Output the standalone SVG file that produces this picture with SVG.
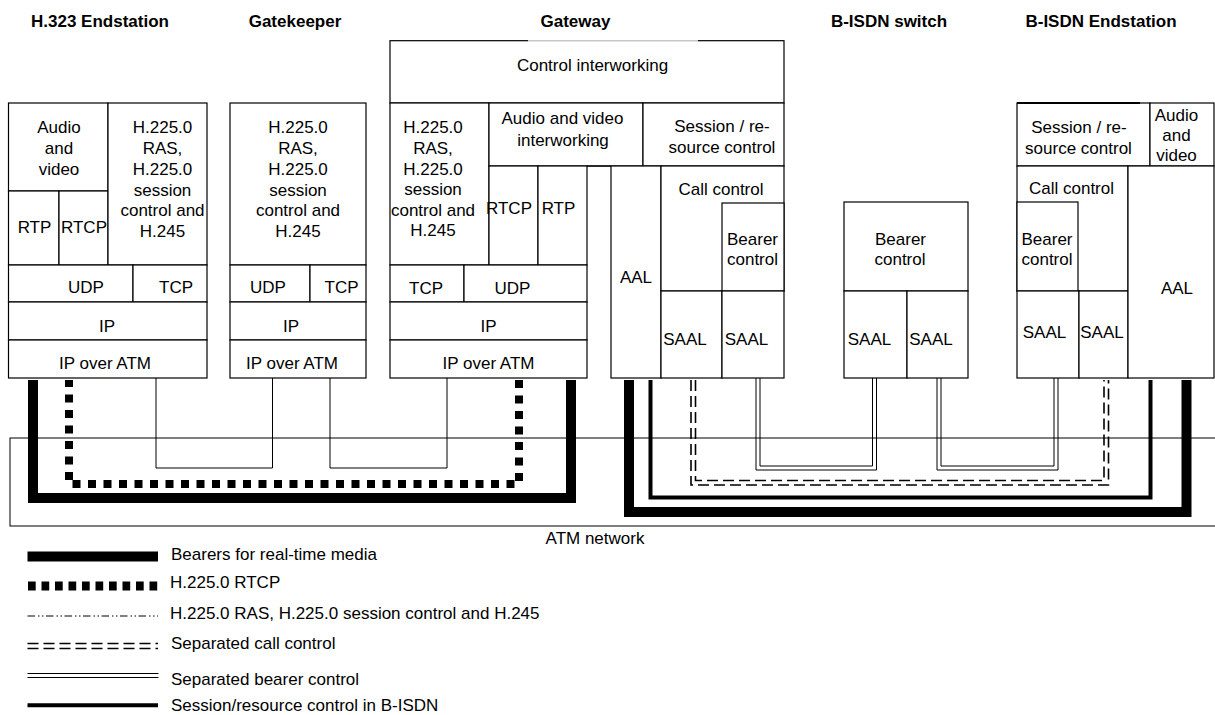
<svg xmlns="http://www.w3.org/2000/svg" width="1215" height="715" viewBox="0 0 1215 715">
<style>
.box{fill:#fff;stroke:#000;stroke-width:1.2}
.t{font-family:"Liberation Sans",Arial,sans-serif;font-size:17px;fill:#000;text-anchor:middle}
.ti{font-weight:bold}
.s{text-anchor:start}
.thin{fill:none;stroke:#000;stroke-width:1}
.bear{fill:none;stroke:#000;stroke-width:10}
.rtcp{fill:none;stroke:#000;stroke-width:8;stroke-dasharray:8 7.5}
.sess{fill:none;stroke:#000;stroke-width:4}
.cc{fill:none;stroke:#000;stroke-width:1.6;stroke-dasharray:11 5}
.bc{fill:none;stroke:#000;stroke-width:1}
.ras{fill:none;stroke:#000;stroke-width:1;stroke-dasharray:7.5 3 1.5 2.5 1.5 2.5}
</style>
<rect width="1215" height="715" fill="#fff"/>

<g id="titles">
<text class="t ti" x="100" y="27">H.323 Endstation</text>
<text class="t ti" x="295" y="27">Gatekeeper</text>
<text class="t ti" x="575.5" y="27">Gateway</text>
<text class="t ti" x="889" y="27">B-ISDN switch</text>
<text class="t ti" x="1101" y="27">B-ISDN Endstation</text>
</g>

<g id="atm-network">
<rect x="10" y="438" width="1215" height="88" fill="none" stroke="#000" stroke-width="1"/>
<text class="t" x="595" y="544">ATM network</text>
</g>

<g id="h323-endstation">
<rect class="box" x="8.5" y="103" width="99.5" height="88"/>
<rect class="box" x="8.5" y="191" width="50.5" height="74"/>
<rect class="box" x="59" y="191" width="49" height="74"/>
<rect class="box" x="108" y="103" width="99" height="162"/>
<rect class="box" x="8.5" y="265" width="124.5" height="37"/>
<rect class="box" x="133" y="265" width="74" height="37"/>
<rect class="box" x="8.5" y="302" width="198.5" height="38"/>
<rect class="box" x="8.5" y="340" width="198.5" height="38"/>
<text class="t" x="59" y="133">Audio</text>
<text class="t" x="59" y="154">and</text>
<text class="t" x="59" y="175">video</text>
<text class="t" x="34.5" y="233">RTP</text>
<text class="t" x="84" y="233">RTCP</text>
<text class="t" x="162.5" y="133">H.225.0</text>
<text class="t" x="162.5" y="154">RAS,</text>
<text class="t" x="162.5" y="175">H.225.0</text>
<text class="t" x="162.5" y="196">session</text>
<text class="t" x="162.5" y="216">control and</text>
<text class="t" x="162.5" y="237">H.245</text>
<text class="t" x="86" y="293">UDP</text>
<text class="t" x="176" y="293">TCP</text>
<text class="t" x="107" y="332">IP</text>
<text class="t" x="105" y="369">IP over ATM</text>
</g>

<g id="gatekeeper">
<rect class="box" x="230" y="103" width="136" height="162"/>
<rect class="box" x="230" y="265" width="80" height="37"/>
<rect class="box" x="310" y="265" width="56" height="37"/>
<rect class="box" x="230" y="302" width="136" height="38"/>
<rect class="box" x="230" y="340" width="136" height="38"/>
<text class="t" x="298" y="133">H.225.0</text>
<text class="t" x="298" y="154">RAS,</text>
<text class="t" x="298" y="175">H.225.0</text>
<text class="t" x="298" y="196">session</text>
<text class="t" x="298" y="216">control and</text>
<text class="t" x="298" y="237">H.245</text>
<text class="t" x="268" y="293">UDP</text>
<text class="t" x="341.5" y="293">TCP</text>
<text class="t" x="291" y="332">IP</text>
<text class="t" x="292" y="369">IP over ATM</text>
</g>

<g id="gateway">
<rect class="box" x="390" y="40.7" width="394" height="62.3"/>
<line x1="528" y1="40.7" x2="698" y2="40.7" stroke="#fff" stroke-width="2"/>
<line x1="528" y1="40.7" x2="698" y2="40.7" stroke="#bbb" stroke-width="1"/>
<rect class="box" x="390" y="103" width="99" height="162"/>
<rect class="box" x="489" y="103" width="154" height="63"/>
<rect class="box" x="643" y="103" width="141" height="63"/>
<rect class="box" x="489" y="166" width="49" height="99"/>
<rect class="box" x="538" y="166" width="49" height="99"/>
<rect class="box" x="390" y="265" width="74" height="37"/>
<rect class="box" x="464" y="265" width="123" height="37"/>
<rect class="box" x="390" y="302" width="197" height="38"/>
<rect class="box" x="390" y="340" width="197" height="38"/>
<path d="M587,166 H611" fill="none" stroke="#000" stroke-width="1.2"/>
<rect class="box" x="611" y="166" width="50" height="212"/>
<rect class="box" x="661" y="166" width="123" height="125"/>
<rect class="box" x="722" y="203" width="62" height="88"/>
<rect class="box" x="661" y="291" width="61" height="87"/>
<rect class="box" x="722" y="291" width="62" height="87"/>
<text class="t" x="592.5" y="71">Control interworking</text>
<text class="t" x="433" y="133">H.225.0</text>
<text class="t" x="433" y="153.5">RAS,</text>
<text class="t" x="433" y="174.5">H.225.0</text>
<text class="t" x="433" y="195">session</text>
<text class="t" x="433" y="215.5">control and</text>
<text class="t" x="433" y="236">H.245</text>
<text class="t" x="562.5" y="124">Audio and video</text>
<text class="t" x="563" y="145.5">interworking</text>
<text class="t" x="722" y="131.5">Session / re-</text>
<text class="t" x="722" y="152.5">source control</text>
<text class="t" x="509" y="213.5">RTCP</text>
<text class="t" x="558.5" y="213.5">RTP</text>
<text class="t" x="721" y="195">Call control</text>
<text class="t" x="752.5" y="244.5">Bearer</text>
<text class="t" x="752.5" y="265">control</text>
<text class="t" x="636" y="283">AAL</text>
<text class="t" x="685" y="345">SAAL</text>
<text class="t" x="746.5" y="345">SAAL</text>
<text class="t" x="426" y="294">TCP</text>
<text class="t" x="512.5" y="294">UDP</text>
<text class="t" x="488.5" y="332">IP</text>
<text class="t" x="488.5" y="369">IP over ATM</text>
</g>

<g id="bisdn-switch">
<rect class="box" x="844" y="202" width="124" height="89"/>
<rect class="box" x="844" y="291" width="63" height="87"/>
<rect class="box" x="907" y="291" width="61" height="87"/>
<text class="t" x="900.5" y="245">Bearer</text>
<text class="t" x="900" y="265">control</text>
<text class="t" x="869.5" y="344.5">SAAL</text>
<text class="t" x="931" y="344.5">SAAL</text>
</g>

<g id="bisdn-endstation">
<rect class="box" x="1017" y="103" width="133" height="63"/>
<line x1="1017" y1="103" x2="1140" y2="103" stroke="#000" stroke-width="2"/>
<rect class="box" x="1150" y="103" width="64" height="63"/>
<rect class="box" x="1017" y="166" width="111" height="125"/>
<rect class="box" x="1017" y="202" width="61" height="89"/>
<rect class="box" x="1017" y="291" width="62" height="87"/>
<rect class="box" x="1079" y="291" width="49" height="87"/>
<rect class="box" x="1128" y="166" width="86" height="212"/>
<text class="t" x="1079" y="132.5">Session / re-</text>
<text class="t" x="1078.5" y="153.5">source control</text>
<text class="t" x="1176.5" y="120.5">Audio</text>
<text class="t" x="1176.5" y="140.5">and</text>
<text class="t" x="1176.5" y="161">video</text>
<text class="t" x="1071.5" y="194">Call control</text>
<text class="t" x="1047" y="245">Bearer</text>
<text class="t" x="1047" y="265">control</text>
<text class="t" x="1044.5" y="338">SAAL</text>
<text class="t" x="1102" y="338">SAAL</text>
<text class="t" x="1177" y="294">AAL</text>
</g>

<g id="connectors">
<path class="thin" d="M156,378 V468 H272.5 V378"/>
<path class="thin" d="M330,378 V468 H447 V378"/>
<path class="rtcp" d="M519,380 V484 H69 V380"/>
<path class="bear" d="M33,380 V498 H571 V380"/>
<path class="bc" d="M756,378 V470 H876.5 V378"/>
<path class="bc" d="M760,378 V466 H872.5 V378"/>
<path class="bc" d="M937,378 V470 H1058 V378"/>
<path class="bc" d="M941,378 V466 H1054 V378"/>
<path class="cc" d="M691,380 V485 H1108.5 V380"/>
<path class="cc" d="M695.5,380 V480.5 H1104 V380"/>
<path class="sess" d="M650.5,380 V497.5 H1150.5 V380"/>
<path class="bear" d="M629,380 V512 H1186.5 V380"/>
</g>

<g id="legend">
<line class="bear" x1="27.5" y1="556.5" x2="158" y2="556.5"/>
<text class="t s" x="171" y="559.5">Bearers for real-time media</text>
<line x1="28" y1="586" x2="158" y2="586" stroke="#000" stroke-width="9" stroke-dasharray="7.7 5.8"/>
<text class="t s" x="170" y="588">H.225.0 RTCP</text>
<line class="ras" x1="27.5" y1="616" x2="158" y2="616"/>
<text class="t s" x="170" y="618.5">H.225.0 RAS, H.225.0 session control and H.245</text>
<line class="cc" x1="27.5" y1="643.5" x2="158" y2="643.5"/>
<line class="cc" x1="27.5" y1="648.5" x2="158" y2="648.5"/>
<text class="t s" x="171" y="648.5">Separated call control</text>
<line class="bc" x1="27.5" y1="673.5" x2="158.5" y2="673.5"/>
<line class="bc" x1="27.5" y1="677.5" x2="158.5" y2="677.5"/>
<text class="t s" x="171" y="685">Separated bearer control</text>
<line class="sess" x1="27.5" y1="705.3" x2="158" y2="705.3"/>
<text class="t s" x="171" y="711">Session/resource control in B-ISDN</text>
</g>
</svg>
